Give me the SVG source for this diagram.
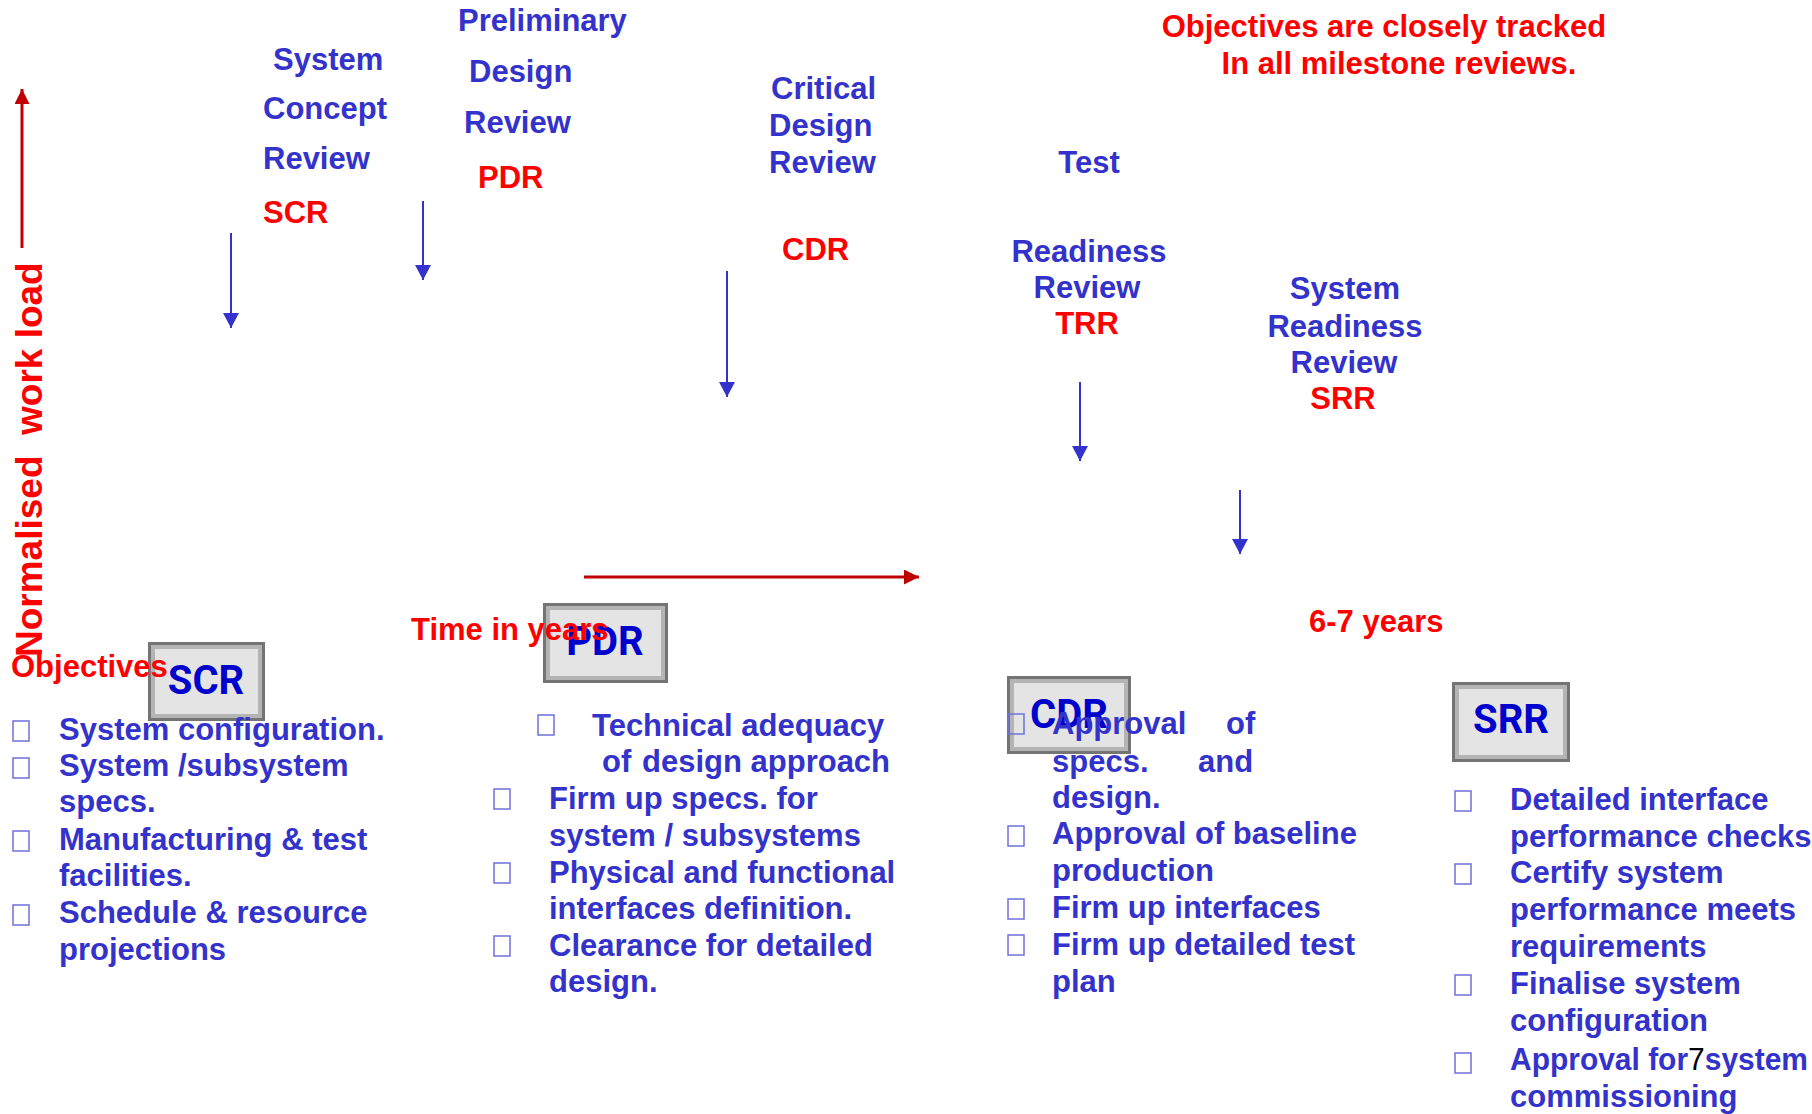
<svg xmlns="http://www.w3.org/2000/svg" width="1812" height="1114" viewBox="0 0 1812 1114">
<defs>
<style>
text{font-family:"Liberation Sans",Arial,sans-serif;font-weight:bold;font-size:31px;}
.bl{fill:#3333CC;}
.rd{fill:#FF0000;}
.mid{text-anchor:middle;}
.bx{font-family:Roboto,"Liberation Sans",sans-serif;font-size:40px;fill:#0000CC;text-anchor:middle;}
.bo{fill:#747474;}
.bm{fill:#b4b4b4;}
.bi{fill:#e4e4e4;}
.bul{fill:none;stroke:#7070DD;stroke-width:1.5;}
.ba{stroke:#3333CC;stroke-width:2;fill:none;marker-end:url(#ab);}
.ra{stroke:#C00000;stroke-width:3;fill:none;marker-end:url(#ar);}
</style>
<marker id="ab" markerUnits="userSpaceOnUse" viewBox="0 0 15 16" refX="15" refY="8" markerWidth="15" markerHeight="16" orient="auto"><path d="M0,0L15,8L0,16z" fill="#3333CC"/></marker>
<marker id="ar" markerUnits="userSpaceOnUse" viewBox="0 0 15 15" refX="15" refY="7.5" markerWidth="15" markerHeight="15" orient="auto"><path d="M0,0L15,7.5L0,15z" fill="#C00000"/></marker>
</defs>
<rect width="1812" height="1114" fill="#ffffff"/>

<g id="connectors">
<line class="ba" x1="231" y1="233" x2="231" y2="328"/>
<line class="ba" x1="423" y1="201" x2="423" y2="280"/>
<line class="ba" x1="727" y1="271" x2="727" y2="397"/>
<line class="ba" x1="1080" y1="382" x2="1080" y2="461"/>
<line class="ba" x1="1240" y1="490" x2="1240" y2="554"/>
<line class="ra" x1="22" y1="248" x2="22" y2="89"/>
<line class="ra" x1="584" y1="577" x2="919" y2="577"/>
</g>

<g id="node-scr">
<rect class="bo" x="148" y="642" width="117" height="79"/>
<rect class="bm" x="151" y="645" width="111" height="73"/>
<rect class="bi" x="155" y="649" width="103" height="65"/>
<text class="bx" x="206" y="694">SCR</text>
</g>
<g id="node-pdr">
<rect class="bo" x="543" y="603" width="125" height="80"/>
<rect class="bm" x="546" y="606" width="119" height="74"/>
<rect class="bi" x="550" y="610" width="111" height="66"/>
<text class="bx" x="605" y="655">PDR</text>
</g>
<g id="node-cdr">
<rect class="bo" x="1007" y="676" width="124" height="78"/>
<rect class="bm" x="1010" y="679" width="118" height="72"/>
<rect class="bi" x="1014" y="683" width="110" height="64"/>
<text class="bx" x="1069" y="728">CDR</text>
</g>
<g id="node-srr">
<rect class="bo" x="1452" y="682" width="118" height="80"/>
<rect class="bm" x="1455" y="685" width="112" height="74"/>
<rect class="bi" x="1459" y="689" width="104" height="66"/>
<text class="bx" x="1511" y="733">SRR</text>
</g>

<g id="label-scr">
<text class="bl" x="273" y="70">System</text>
<text class="bl" x="263" y="119">Concept</text>
<text class="bl" x="263" y="169">Review</text>
<text class="rd" x="263" y="223">SCR</text>
</g>
<g id="label-pdr">
<text class="bl" x="458" y="31">Preliminary</text>
<text class="bl" x="469" y="82">Design</text>
<text class="bl" x="464" y="133">Review</text>
<text class="rd" x="478" y="188">PDR</text>
</g>
<g id="label-cdr">
<text class="bl" x="771" y="99">Critical</text>
<text class="bl" x="769" y="136">Design</text>
<text class="bl" x="769" y="173">Review</text>
<text class="rd" x="782" y="260">CDR</text>
</g>
<g id="label-trr">
<text class="bl mid" x="1089" y="173">Test</text>
<text class="bl mid" x="1089" y="262">Readiness</text>
<text class="bl mid" x="1087" y="298">Review</text>
<text class="rd mid" x="1087" y="334">TRR</text>
</g>
<g id="label-srr">
<text class="bl mid" x="1345" y="299">System</text>
<text class="bl mid" x="1345" y="337">Readiness</text>
<text class="bl mid" x="1344" y="373">Review</text>
<text class="rd mid" x="1343" y="409">SRR</text>
</g>

<g id="notes">
<text class="rd mid" x="1384" y="37">Objectives are closely tracked</text>
<text class="rd mid" x="1399" y="74">In all milestone reviews.</text>
<text class="rd" transform="translate(42,657) rotate(-90)" style="font-size:37px"><tspan x="0" y="0">Normalised</tspan><tspan x="222" y="0">work load</tspan></text>
<text class="rd" x="411" y="640">Time in years</text>
<text class="rd" x="1309" y="632">6-7 years</text>
<text class="rd" x="11" y="677">Objectives</text>
</g>

<g id="list-scr">
<rect class="bul" x="13" y="721" width="16" height="20"/>
<rect class="bul" x="13" y="758" width="16" height="20"/>
<rect class="bul" x="13" y="831" width="16" height="20"/>
<rect class="bul" x="13" y="905" width="16" height="20"/>
<text class="bl" x="59" y="740">System configuration.</text>
<text class="bl" x="59" y="776">System /subsystem</text>
<text class="bl" x="59" y="812">specs.</text>
<text class="bl" x="59" y="850">Manufacturing &amp; test</text>
<text class="bl" x="59" y="886">facilities.</text>
<text class="bl" x="59" y="923">Schedule &amp; resource</text>
<text class="bl" x="59" y="960">projections</text>
</g>

<g id="list-pdr">
<rect class="bul" x="538" y="715" width="16" height="20"/>
<rect class="bul" x="494" y="789" width="16" height="20"/>
<rect class="bul" x="494" y="863" width="16" height="20"/>
<rect class="bul" x="494" y="936" width="16" height="20"/>
<text class="bl" x="592" y="736">Technical adequacy</text>
<text class="bl" y="772"><tspan x="602">of</tspan><tspan x="642">design approach</tspan></text>
<text class="bl" x="549" y="809">Firm up specs. for</text>
<text class="bl" x="549" y="846">system / subsystems</text>
<text class="bl" x="549" y="883">Physical and functional</text>
<text class="bl" x="549" y="919">interfaces definition.</text>
<text class="bl" x="549" y="956">Clearance for detailed</text>
<text class="bl" x="549" y="992">design.</text>
</g>

<g id="list-cdr">
<rect class="bul" x="1008" y="714" width="16" height="20"/>
<rect class="bul" x="1008" y="826" width="16" height="20"/>
<rect class="bul" x="1008" y="899" width="16" height="20"/>
<rect class="bul" x="1008" y="935" width="16" height="20"/>
<text class="bl" y="734"><tspan x="1052">Approval</tspan><tspan x="1226">of</tspan></text>
<text class="bl" y="772"><tspan x="1052">specs.</tspan><tspan x="1198">and</tspan></text>
<text class="bl" x="1052" y="808">design.</text>
<text class="bl" x="1052" y="844">Approval of baseline</text>
<text class="bl" x="1052" y="881">production</text>
<text class="bl" x="1052" y="918">Firm up interfaces</text>
<text class="bl" x="1052" y="955">Firm up detailed test</text>
<text class="bl" x="1052" y="992">plan</text>
</g>

<g id="list-srr">
<rect class="bul" x="1455" y="791" width="16" height="20"/>
<rect class="bul" x="1455" y="864" width="16" height="20"/>
<rect class="bul" x="1455" y="975" width="16" height="20"/>
<rect class="bul" x="1455" y="1053" width="16" height="20"/>
<text class="bl" x="1510" y="810">Detailed interface</text>
<text class="bl" x="1510" y="847">performance checks</text>
<text class="bl" x="1510" y="883">Certify system</text>
<text class="bl" x="1510" y="920">performance meets</text>
<text class="bl" x="1510" y="957">requirements</text>
<text class="bl" x="1510" y="994">Finalise system</text>
<text class="bl" x="1510" y="1031">configuration</text>
<text class="bl" x="1510" y="1070" textLength="298" lengthAdjust="spacingAndGlyphs">Approval for<tspan style="fill:#000000;font-weight:normal">7</tspan>system</text>
<text class="bl" x="1510" y="1107">commissioning</text>
</g>
</svg>
